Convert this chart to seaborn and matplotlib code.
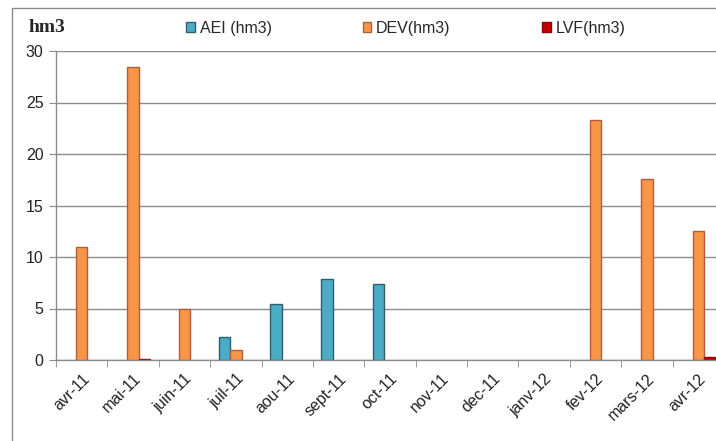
import matplotlib
matplotlib.use("Agg")
import matplotlib.pyplot as plt
from matplotlib.patches import Rectangle, Patch
from matplotlib.ticker import FixedLocator
import seaborn as sns
import pandas as pd

mois = ["avr-11", "mai-11", "juin-11", "juil-11", "aou-11", "sept-11", "oct-11",
        "nov-11", "dec-11", "janv-12", "fev-12", "mars-12", "avr-12"]
aei = [0, 0, 0, 2.2, 5.45, 7.9, 7.4, 0, 0, 0, 0, 0, 0]
dev = [11.0, 28.4, 4.95, 0.97, 0, 0, 0, 0, 0, 0, 23.3, 17.6, 12.5]
lvf = [0, 0.1, 0, 0, 0, 0, 0, 0, 0, 0, 0, 0, 0.32]
series = ["AEI (hm3)", "DEV(hm3)", "LVF(hm3)"]

colors = ["#4BACC6", "#F79646", "#C00000"]
edges = ["#2F5F6E", "#B65A3C", "#9A0000"]

df = pd.DataFrame({
    "mois": mois * 3,
    "valeur": aei + dev + lvf,
    "serie": [series[0]] * 13 + [series[1]] * 13 + [series[2]] * 13,
})

sns.set_style("white")
plt.rcParams["font.family"] = ["Liberation Sans", "DejaVu Sans"]

fig = plt.figure(figsize=(7.16, 4.41), dpi=100)
ax = fig.add_axes([56 / 716, 1 - 360 / 441, 668 / 716, 309 / 441])

sns.barplot(data=df, x="mois", y="valeur", hue="serie", order=mois,
            hue_order=series, palette=colors, width=0.667, ax=ax,
            legend=False, errorbar=None, saturation=1)

# outline only the bars that have a value
for cont, ec in zip(ax.containers, edges):
    for bar in cont:
        bar.set_edgecolor(ec)
        bar.set_linewidth(1.0 if bar.get_height() > 0 else 0)

ax.set_xlim(-0.5, 12.5)
ax.set_ylim(0, 30)
ax.set_yticks(range(0, 31, 5))
ax.yaxis.grid(True, color="#8C8C8C", linewidth=1)
ax.set_axisbelow(True)

for side in ["top", "right"]:
    ax.spines[side].set_visible(False)
for side in ["left", "bottom"]:
    ax.spines[side].set_color("#8C8C8C")
    ax.spines[side].set_linewidth(1)

ax.tick_params(axis="y", length=5, color="#8C8C8C", labelsize=11.5,
               labelcolor="#222222", left=True, pad=4)
ax.tick_params(axis="x", which="major", length=0, labelsize=11.5,
               labelcolor="#222222", pad=8)
ax.xaxis.set_minor_locator(FixedLocator([i - 0.5 for i in range(14)]))
ax.tick_params(axis="x", which="minor", length=5, color="#8C8C8C", bottom=True)
ax.set_xticks(range(len(mois)))
ax.set_xticklabels(mois, rotation=45, ha="right", rotation_mode="anchor")
ax.set_xlabel("")
ax.set_ylabel("")

# chart frame
fig.patches.append(Rectangle((12 / 716, -0.2), 2.0, 1.2 - 8 / 441,
                             transform=fig.transFigure, fill=False,
                             edgecolor="#8C8C8C", linewidth=1))

fig.text(29 / 716, 1 - 27 / 441, "hm3", fontsize=14, fontweight="bold",
         family=["Liberation Serif", "DejaVu Serif"], va="center", ha="left")

handles = [Patch(facecolor=c, edgecolor=e, label=s)
           for c, e, s in zip(colors, edges, series)]
fig.legend(handles=handles, loc="center left", bbox_to_anchor=(186 / 716, 1 - 28 / 441),
           ncol=3, frameon=False, fontsize=11.5, handlelength=0.55, handleheight=0.55,
           handletextpad=0.3, columnspacing=5.7, borderaxespad=0, borderpad=0)

fig.savefig("out.png", dpi=100)
